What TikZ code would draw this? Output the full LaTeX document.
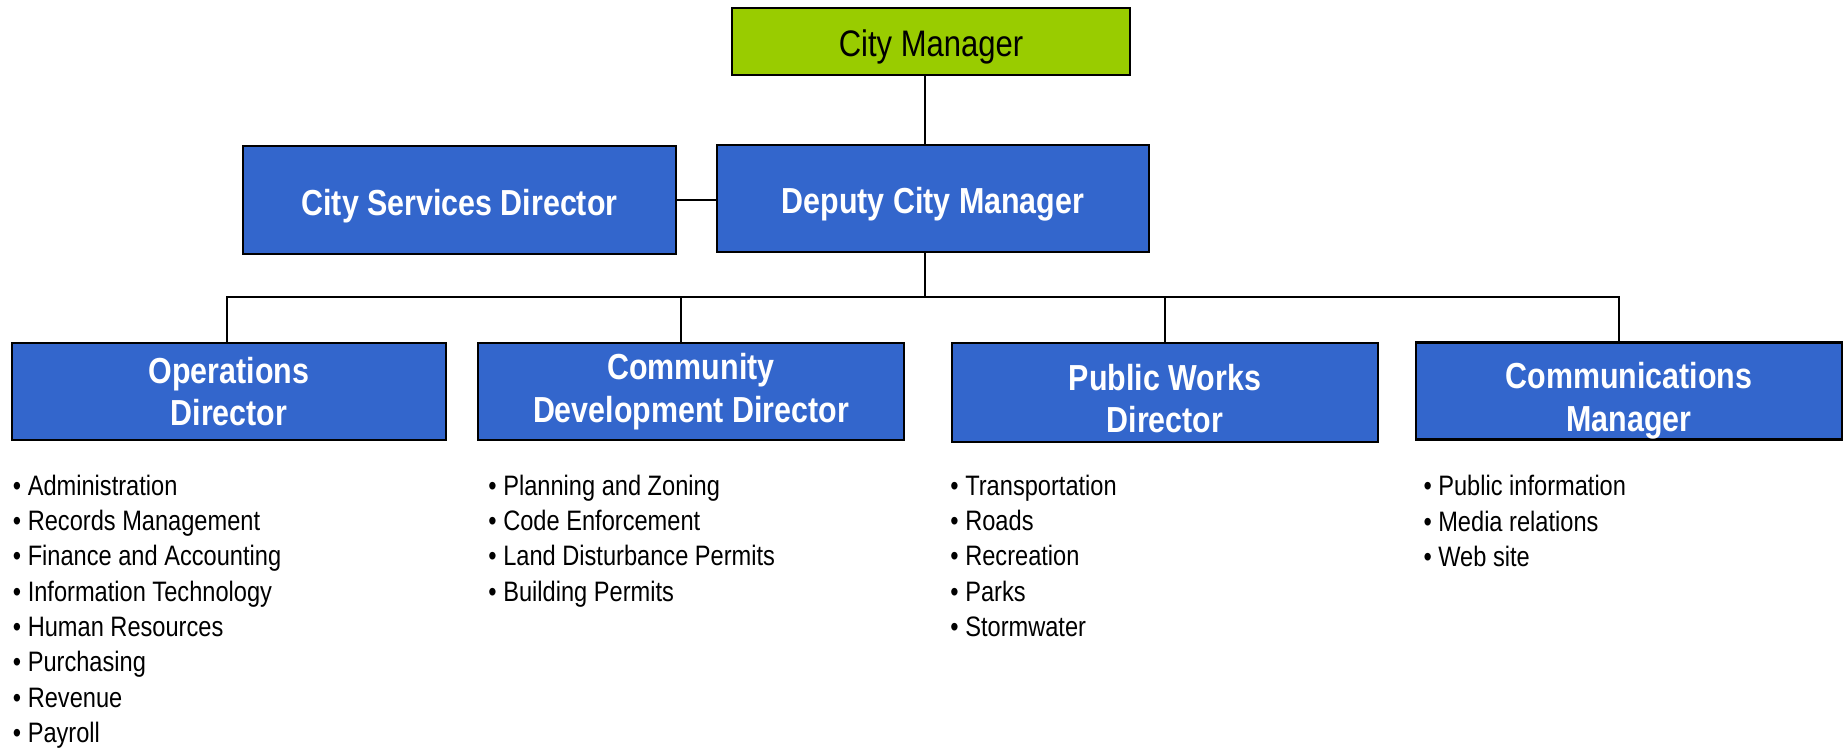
\documentclass[tikz,border=0pt]{standalone}
\usepackage{fontspec}
\setmainfont{Liberation Sans}[FakeStretch=0.84]
\usetikzlibrary{positioning}

\definecolor{boxblue}{HTML}{3366CC}
\definecolor{topgreen}{HTML}{99CC00}

\tikzset{
  box/.style={draw=black, line width=0.7pt, fill=boxblue, text=white,
    font=\fontsize{10.3}{12.2}\selectfont\bfseries, align=center, inner sep=0pt},
  oneline/.style={text height=8.8pt, text depth=0pt},
  topbox/.style={box, oneline, fill=topgreen, text=black,
    font=\fontsize{10.5}{12.5}\selectfont},
  link/.style={line width=0.6pt},
  duties/.style={align=left, inner sep=0pt,
    font=\fontsize{8}{10.04}\selectfont},
}

\begin{document}
\begin{tikzpicture}

\useasboundingbox (0,0) rectangle (18.43,-7.48);

% --- Direccion ---
\node[topbox, minimum width=3.98cm, minimum height=0.67cm] (cm) at (9.31,-0.415) {City Manager};
\node[box, oneline, minimum width=4.32cm, minimum height=1.07cm] (dcm) at (9.33,-1.985) {Deputy City Manager};
\node[box, oneline, minimum width=4.33cm, minimum height=1.08cm] (csd) at (4.595,-2.0) {City Services Director};

% --- Directores ---
\node[box, minimum width=4.34cm, minimum height=0.97cm] (ops) at (2.29,-3.915) {Operations\\Director};
\node[box, minimum width=4.26cm, minimum height=0.97cm] (cdd) at (6.91,-3.915) {Community\\Development Director};
\node[box, text height=23pt, text depth=0pt, minimum width=4.26cm, minimum height=0.99cm] (pwd) at (11.65,-3.925) {Public Works\\Director};
\node[box, text height=22.8pt, text depth=0pt, minimum width=4.26cm, minimum height=0.97cm] (cmm) at (16.29,-3.91) {Communications\\Manager};

% --- Lineas ---
\coordinate (bus) at (9.25,-2.97);
\draw[link] ([xshift=-0.06cm]cm.south) -- ([xshift=-0.06cm]cm.south |- dcm.north);
\draw[link] (csd.east) -- (csd.east -| dcm.west);
\draw[link] (dcm.south -| bus) -- (bus);
\draw[link] ([xshift=-0.02cm]ops.north) |- (bus) -| ([xshift=-0.1cm]cmm.north);
\draw[link] ([xshift=-0.1cm]cdd.north) -- ([xshift=-0.1cm]cdd.north |- bus);
\draw[link] (pwd.north) -- (pwd.north |- bus);

% --- Funciones ---
\node[duties, below right=0.33cm and 0.015cm of ops.south west] (opslist)
  {• Administration\\• Records Management\\• Finance and Accounting\\• Information Technology\\• Human Resources\\• Purchasing\\• Revenue\\• Payroll};
\node[duties, below right=0.33cm and 0.11cm of cdd.south west] (cddlist)
  {• Planning and Zoning\\• Code Enforcement\\• Land Disturbance Permits\\• Building Permits};
\node[duties, below right=0.31cm and -0.01cm of pwd.south west] (pwdlist)
  {• Transportation\\• Roads\\• Recreation\\• Parks\\• Stormwater};
\node[duties, below right=0.34cm and 0.08cm of cmm.south west] (cmmlist)
  {• Public information\\• Media relations\\• Web site};

\end{tikzpicture}
\end{document}
